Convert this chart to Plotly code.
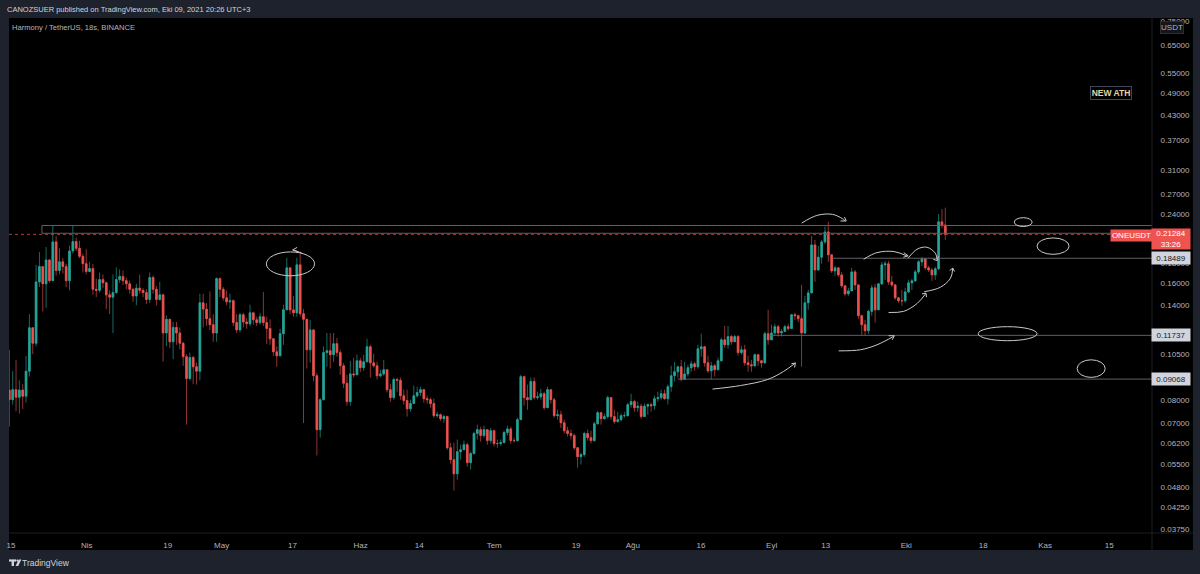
import math
import pandas as pd
import plotly.graph_objects as go

# 18-hour ONE/USDT candles
first_open = 0.0850
closes = [
.0803,.0852,.0815,.0850,.0820,.0950,.1227,.1120,.1608,.1760,.1590,.1830,.1620,.2036,.1720,.1810,.1760,.1620,.1930,.2040,
.1960,.1870,.1790,.1710,.1740,.1540,.1530,.1630,.1600,.1490,.1470,.1510,.1630,.1660,.1620,.1590,.1540,.1480,.1550,.1530,
.1510,.1450,.1650,.1540,.1450,.1490,.1190,.1290,.1130,.1230,.1190,.1120,.1035,.0910,.1030,.0975,.0950,.1422,.1370,.1295,
.1250,.1190,.1640,.1540,.1464,.1430,.1440,.1265,.1212,.1325,.1270,.1257,.1340,.1286,.1265,.1310,.1265,.1222,.1150,.1065,
.1040,.1185,.1364,.1747,.1364,.1340,.1778,.1333,.1290,.1078,.1212,.0925,
.0673,.0803,.1060,.1072,.1047,.1117,.1060,.0981,.0885,.0794,.0935,.0930,.1010,.0970,.1004,.1097,.0998,.0981,
.0925,.0935,.0958,.0852,.0813,.0905,.0900,.0822,.0799,.0761,.0785,.0822,.0838,.0852,.0808,.0803,.0785,.0731,.0735,.0718,
.0727,.0605,.0564,.0519,.0591,.0598,.0616,.0554,.0585,.0658,.0673,.0650,.0673,.0631,.0669,.0620,.0620,.0624,.0662,.0676,
.0631,.0631,.0714,.0920,.0813,.0803,.0894,.0813,.0817,.0832,.0766,.0852,.0803,.0731,.0735,.0701,.0669,.0658,.0650,.0605,
.0574,.0581,.0658,.0642,.0631,.0697,.0744,.0718,.0727,.0813,.0727,.0706,.0714,.0731,.0731,.0780,.0794,.0766,.0773,.0727,
.0773,.0780,.0775,.0808,.0813,.0832,.0808,.0867,.0925,.0947,.0975,.0905,.0935,.0970,.0992,.0975,.1084,.1097,.0998,.0952,
.0981,.0958,.1010,.1143,.1110,.1165,.1130,.1165,.1060,.1078,.0998,.0987,.0981,.1047,.1010,.0998,.1185,.1143,.1190,.1235,
.1190,.1200,.1235,.1222,.1325,.1318,.1295,.1190,.1422,.1507,.2000,.1726,.1860,.2036,.2159,.1886,.1716,.1747,.1676,.1571,
.1499,.1525,.1706,.1580,.1318,.1249,.1206,.1352,.1553,.1364,.1590,.1778,.1789,.1608,.1580,.1464,.1439,.1439,.1516,.1599,
.1618,.1706,.1810,.1842,.1747,.1726,.1676,.1737,.2291,.2250,.2128]
highs = [
.1078,.0950,.1016,.0900,.0880,.1040,.1330,.1230,.1778,.1919,.1760,.1976,.1840,.2240,.2110,.1960,.1850,.1790,.1990,.2250,
.2090,.2050,.1900,.1950,.1810,.1790,.1640,.1700,.1680,.1610,.1530,.1680,.1750,.1730,.1720,.1650,.1620,.1550,.1590,.1680,
.1550,.1540,.1700,.1670,.1570,.1610,.1500,.1320,.1260,.1270,.1270,.1230,.1130,.1050,.1060,.1040,.1000,.1500,.1500,.1420,
.1520,.1330,.1650,.1650,.1560,.1530,.1500,.1450,.1330,.1340,.1340,.1300,.1405,.1350,.1310,.1340,.1516,.1310,.1290,.1150,
.1100,.1220,.1405,.1853,.1747,.1480,.1853,.1897,.1370,.1290,.1286,.1212,
.0941,.0810,.1100,.1190,.1190,.1190,.1155,.1078,.0998,.0930,.1010,.1028,.1047,.1028,.1047,.1150,.1110,.1053,
.1004,.0958,.1016,.0958,.0883,.0915,.0915,.0915,.0852,.0852,.0803,.0873,.0867,.0867,.0857,.0822,.0813,.0808,.0748,.0740,
.0735,.0731,.0623,.0623,.0635,.0616,.0631,.0623,.0591,.0665,.0693,.0685,.0689,.0673,.0680,.0673,.0635,.0635,.0669,.0689,
.0685,.0642,.0722,.0930,.0925,.0878,.0915,.0915,.0842,.0857,.0842,.0867,.0852,.0813,.0757,.0752,.0714,.0685,.0673,.0658,
.0605,.0588,.0665,.0673,.0669,.0706,.0752,.0748,.0740,.0822,.0808,.0757,.0748,.0740,.0748,.0789,.0832,.0803,.0794,.0785,
.0785,.0785,.0789,.0822,.0842,.0852,.0852,.0878,.0981,.1004,.0981,.1016,.1004,.0987,.1010,.1004,.1110,.1185,.1103,.1041,
.1004,.0992,.1028,.1157,.1240,.1240,.1177,.1177,.1177,.1103,.1110,.1041,.1016,.1053,.1047,.1016,.1198,.1364,.1249,.1257,
.1249,.1218,.1249,.1257,.1332,.1340,.1325,.1580,.1481,.1534,.2109,.2060,.1988,.2060,.2229,.2291,.1897,.1768,.1747,.1706,
.1580,.1553,.1747,.1726,.1580,.1325,.1286,.1364,.1580,.1590,.1599,.1810,.1820,.1820,.1667,.1590,.1473,.1534,.1553,.1627,
.1637,.1726,.1831,.1864,.1853,.1768,.1747,.1758,.2400,.2470,.2490]
lows = [
.0685,.0780,.0750,.0740,.0760,.0790,.0920,.1050,.1100,.1560,.1350,.1380,.1600,.1620,.1670,.1680,.1690,.1560,.1530,.1900,
.1930,.1850,.1700,.1680,.1700,.1490,.1470,.1510,.1550,.1370,.1330,.1190,.1500,.1600,.1580,.1540,.1500,.1430,.1400,.1500,
.1470,.1410,.1420,.1500,.1400,.1440,.1005,.1100,.1090,.1020,.1110,.1080,.0980,.0693,.0900,.0880,.0878,.0900,.1230,.1240,
.1210,.1130,.1130,.1470,.1440,.1400,.1370,.1240,.1190,.1195,.1230,.1220,.1240,.1250,.1240,.1250,.1240,.1115,.1110,.1040,
.0975,.1040,.1110,.1364,.1330,.1310,.1310,.1310,.0700,.0965,.1000,.0895,
.0578,.0642,.0800,.0975,.0965,.1004,.1035,.0930,.0860,.0775,.0775,.0915,.0930,.0945,.0952,.1010,.0915,.0970,
.0905,.0915,.0925,.0838,.0793,.0803,.0842,.0803,.0780,.0727,.0748,.0785,.0813,.0822,.0789,.0785,.0766,.0722,.0722,.0709,
.0701,.0598,.0551,.0470,.0501,.0564,.0598,.0541,.0532,.0581,.0635,.0627,.0642,.0616,.0620,.0609,.0605,.0612,.0620,.0650,
.0620,.0624,.0627,.0714,.0775,.0757,.0803,.0803,.0803,.0803,.0757,.0766,.0785,.0722,.0714,.0680,.0658,.0646,.0635,.0598,
.0538,.0548,.0574,.0631,.0620,.0627,.0693,.0693,.0714,.0718,.0714,.0697,.0701,.0706,.0722,.0727,.0766,.0748,.0748,.0718,
.0727,.0735,.0748,.0757,.0794,.0803,.0803,.0780,.0842,.0894,.0915,.0894,.0905,.0920,.0947,.0952,.0964,.1034,.0975,.0941,
.0905,.0920,.0958,.1010,.1090,.1084,.1110,.1137,.1041,.1047,.0981,.0947,.0947,.0975,.0981,.0970,.0992,.1110,.1143,.1177,
.1165,.1165,.1200,.1206,.1228,.1286,.1270,.0975,.1183,.1364,.1516,.1608,.1716,.1790,.2012,.1810,.1696,.1667,.1657,.1553,
.1481,.1481,.1525,.1534,.1295,.1177,.1171,.1183,.1318,.1265,.1364,.1580,.1627,.1580,.1562,.1447,.1422,.1397,.1422,.1507,
.1534,.1608,.1686,.1768,.1726,.1706,.1618,.1627,.1726,.2205,.2060]
last_price = 0.21284

# Price scale and time scale labels
price_ticks = [.75,.65,.55,.49,.43,.37,.31,.27,.24,.18,.16,.14,.12,.105,.08,.07,.062,.055,.048,.0425,.0375]
time_ticks = ["2021-03-15","2021-04-01","2021-04-19 04:00","2021-05-01 06:00","2021-05-17 04:00","2021-06-01 10:00",
              "2021-06-14 14:00","2021-07-01 10:00","2021-07-19 19:00","2021-08-01 12:00","2021-08-16 19:00",
              "2021-09-01 16:00","2021-09-13 19:00","2021-10-01 21:00","2021-10-19 03:00","2021-11-02","2021-11-16 10:00"]
time_labels = ["15","Nis","19","May","17","Haz","14","Tem","19","Ağu","16","Eyl","13","Eki","18","Kas","15"]

# Horizontal levels: price, first day after 15 March
levels = [(0.18489, 184.3), (0.11737, 170.4), (0.09068, 149.6)]
zone_top, zone_bottom, zone_start = 0.2242, 0.2142, 6.94

# Pen strokes on the chart: (days after 15 March, price)
strokes = [
    [(157.4,.0855),(163.7,.0873),(169.8,.0905),(173.3,.0948),(176.0,.0997)],
    [(175.1,.0993),(176.0,.0997),(175.8,.0971)],
    [(185.7,.1071),(190.6,.1078),(194.3,.1110),(198.0,.1166)],
    [(196.9,.1171),(198.2,.1171),(197.7,.1143)],
    [(177.4,.2275),(180.9,.2381),(184.3,.2395),(186.5,.2336),(187.2,.2303)],
    [(186.1,.2303),(187.4,.2303),(187.0,.2357)],
    [(191.3,.1838),(194.3,.1911),(198.1,.1923),(201.0,.1875)],
    [(200.3,.1911),(201.3,.1875),(200.2,.1860)],
    [(201.3,.1850),(203.3,.1950),(205.5,.1973),(207.4,.1904),(207.8,.1831)],
    [(206.9,.1838),(207.8,.1824),(208.1,.1868)],
    [(196.9,.1343),(200.3,.1352),(203.3,.1416),(205.2,.1499)],
    [(204.4,.1499),(205.3,.1505),(205.4,.1470)],
    [(204.9,.1518),(208.5,.1558),(210.8,.1644),(211.3,.1744)],
    [(210.6,.1720),(211.3,.1744),(211.7,.1710)],
    [(65.2,.1908),(63.2,.1942)],
    [(64.2,.1971),(63.2,.1942),(64.2,.1925)],
]
# Hand-drawn ellipses: day range and price range
ellipses = [
    (57.3,68.1,.1667,.1919),
    (225.1,229.1,.2229,.2348),
    (230.2,237.4,.1892,.2084),
    (217.0,230.2,.1137,.1235),
    (239.2,245.5,.0916,.1016),
]

W, H = 1200, 574
LEFT, RIGHT, TOP, BOTTOM = 7, 1152, 18, 533
OUTER = "#1e222d"
TEXT = "#b2b5be"
FONT = "Liberation Sans"
UP, DOWN = "#26a69a", "#ef5350"
UP_WICK, DOWN_WICK = "#17695f", "#8f3432"
PEN = "#c9c9c9"
LEVEL = "#5f6169"


def px(x):
    return (x - LEFT) / (RIGHT - LEFT)


def py(y):
    return 1 - (y - TOP) / (BOTTOM - TOP)


base = pd.Timestamp("2021-03-15")


def day(d):
    return base + pd.Timedelta(days=d)


opens = [first_open] + closes[:-1]
times = [pd.Timestamp("2021-03-14 15:00") + pd.Timedelta(hours=18 * i) for i in range(len(closes))]
body_top = [max(o, c) for o, c in zip(opens, closes)]
body_bot = [min(o, c) for o, c in zip(opens, closes)]

fig = go.Figure()

# Wicks sit under the brighter candle bodies
fig.add_trace(go.Candlestick(
    x=times, open=opens, high=highs, low=lows, close=closes, whiskerwidth=0,
    increasing=dict(line=dict(color=UP_WICK, width=1), fillcolor=UP_WICK),
    decreasing=dict(line=dict(color=DOWN_WICK, width=1), fillcolor=DOWN_WICK),
    hoverinfo="skip", showlegend=False))
fig.add_trace(go.Candlestick(
    x=times, open=opens, high=body_top, low=body_bot, close=closes, whiskerwidth=0,
    increasing=dict(line=dict(color=UP, width=0.6), fillcolor=UP),
    decreasing=dict(line=dict(color=DOWN, width=0.6), fillcolor=DOWN),
    hoverinfo="skip", showlegend=False))


def line_trace(xs, ys, color=PEN, width=1, dash="solid", spline=False):
    fig.add_trace(go.Scatter(
        x=xs, y=ys, mode="lines", hoverinfo="skip", showlegend=False,
        line=dict(color=color, width=width, dash=dash, shape="spline" if spline else "linear")))


x_end = day(256)
# Resistance zone and horizontal support levels
line_trace([day(zone_start), x_end], [zone_top, zone_top], LEVEL)
line_trace([day(zone_start), x_end], [zone_bottom, zone_bottom], LEVEL)
line_trace([day(zone_start), day(zone_start)], [zone_bottom, zone_top], LEVEL)
for price, start in levels:
    line_trace([day(start), x_end], [price, price], LEVEL)
line_trace([day(-0.45), x_end], [last_price, last_price], "#b03a3a", 1, "dot")

for stroke in strokes:
    line_trace([day(d) for d, _ in stroke], [p for _, p in stroke], PEN, 1, spline=len(stroke) > 3)

shapes = []
for d0, d1, p0, p1 in ellipses:
    shapes.append(dict(type="circle", xref="x", yref="y", x0=day(d0), x1=day(d1), y0=p0, y1=p1,
                       line=dict(color=PEN, width=1)))

# Black strips under the price and time scales
strip_right = px(1193)
shapes.append(dict(type="rect", xref="paper", yref="paper", x0=1, x1=strip_right, y0=py(550), y1=1,
                   fillcolor="#000000", line_width=0, layer="below"))
shapes.append(dict(type="rect", xref="paper", yref="paper", x0=0, x1=1, y0=py(550), y1=0,
                   fillcolor="#000000", line_width=0, layer="below"))
shapes.append(dict(type="line", xref="paper", yref="paper", x0=0, x1=strip_right, y0=0, y1=0,
                   line=dict(color="#1c1f27", width=1)))
shapes.append(dict(type="line", xref="paper", yref="paper", x0=1, x1=1, y0=py(550), y1=1,
                   line=dict(color="#1c1f27", width=1)))

# TradingView mark in the footer
logo = "#d1d4dc"
shapes += [
    dict(type="rect", xref="paper", yref="paper", x0=px(7), x1=px(14), y0=py(561.6), y1=py(559.4),
         fillcolor=logo, line_width=0),
    dict(type="rect", xref="paper", yref="paper", x0=px(9.6), x1=px(12), y0=py(566), y1=py(561),
         fillcolor=logo, line_width=0),
    dict(type="circle", xref="paper", yref="paper", x0=px(14.3), x1=px(16.5), y0=py(561.7), y1=py(559.5),
         fillcolor=logo, line_width=0),
    dict(type="path", xref="paper", yref="paper",
         path=f"M {px(16.8)} {py(559.5)} L {px(19.4)} {py(559.5)} L {px(16.2)} {py(566)} L {px(13.6)} {py(566)} Z",
         fillcolor=logo, line_width=0),
]


def note(text, x, y, size=8, color=TEXT, anchor="left", valign="middle", **kw):
    return dict(text=text, xref="paper", yref="paper", x=px(x), y=py(y), showarrow=False,
                xanchor=anchor, yanchor=valign, font=dict(family=FONT, size=size, color=color), **kw)


annotations = [
    note("CANOZSUER published on TradingView.com, Eki 09, 2021 20:26 UTC+3", 3, 9.5, size=7.5, color="#d1d4dc"),
    note("Harmony / TetherUS, 18s, BINANCE", 8, 27, size=7.6),
    note("TradingView", 18, 562.5, size=8.5, color="#d1d4dc"),
    note("<b>NEW ATH</b>", 1110.5, 93.5, size=8.5, color="#e6d3a3", anchor="center", bgcolor="#000000",
         bordercolor="#3d4658", borderwidth=1, borderpad=0, width=40, height=12),
    note("USDT", 1172.5, 27.5, size=8, anchor="center", bgcolor="#14161c",
         bordercolor="#2a2e39", borderwidth=1, borderpad=0, width=22, height=11),
    note("ONEUSDT", 1131, 235, size=8, color="#ffffff", anchor="center", bgcolor="#ef5350",
         width=41, height=11, borderpad=0),
    note(f"{last_price:.5f}<br>33:26", 1171, 239.5, size=8, color="#ffffff", anchor="center",
         bgcolor="#ef5350", width=38, height=20, borderpad=0),
]
for price, _ in levels:
    annotations.append(dict(
        text=f"{price:.5f}", xref="paper", yref="y", x=px(1171), y=math.log10(price), showarrow=False,
        xanchor="center", yanchor="middle", font=dict(family=FONT, size=8, color="#131722"),
        bgcolor="#d1d4dc", width=38, height=12, borderpad=0))

fig.update_layout(
    width=W, height=H, autosize=False,
    margin=dict(l=LEFT, r=W - RIGHT, t=TOP, b=H - BOTTOM),
    paper_bgcolor=OUTER, plot_bgcolor="#000000",
    boxmode="overlay", showlegend=False, hovermode=False,
    shapes=shapes, annotations=annotations,
    xaxis=dict(type="date", range=[day(-0.45), x_end], rangeslider=dict(visible=False),
               tickmode="array", tickvals=time_ticks, ticktext=time_labels, showgrid=False,
               zeroline=False, showline=False, ticks="outside", ticklen=4, tickcolor="rgba(0,0,0,0)",
               tickfont=dict(family=FONT, size=8, color=TEXT)),
    yaxis=dict(type="log", side="right", range=[math.log10(0.0366), math.log10(0.762)],
               tickmode="array", tickvals=price_ticks, ticktext=[f"{t:.5f}" for t in price_ticks],
               showgrid=False, zeroline=False, showline=False, ticks="outside", ticklen=6,
               tickcolor="rgba(0,0,0,0)", tickfont=dict(family=FONT, size=8, color=TEXT)),
)

fig.write_html("out.html", config=dict(displayModeBar=False))
